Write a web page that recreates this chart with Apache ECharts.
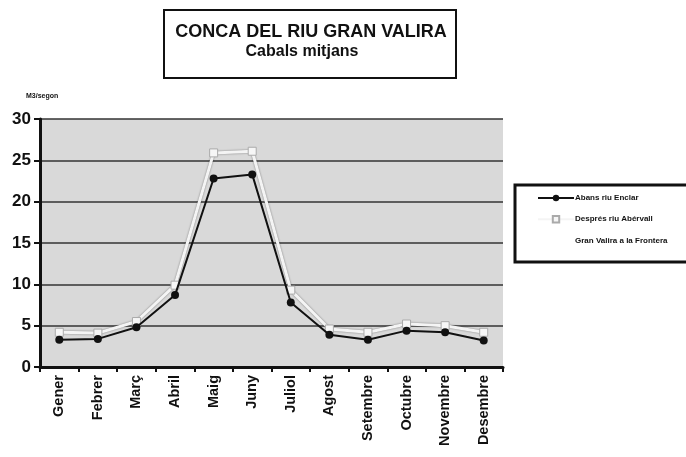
<!DOCTYPE html>
<html>
<head>
<meta charset="utf-8">
<script src="https://cdn.jsdelivr.net/npm/echarts@6/dist/echarts.min.js"></script>
<style>
  html, body { margin: 0; padding: 0; background: #ffffff; }
  #chart { width: 686px; height: 457px; }
</style>
</head>
<body>
<div id="chart"></div>
<script>
// Monthly mean flows, Gran Valira basin (m3/s)
const months = ['Gener', 'Febrer', 'Març', 'Abril', 'Maig', 'Juny', 'Juliol', 'Agost', 'Setembre', 'Octubre', 'Novembre', 'Desembre'];
const abansEnclar = [3.3, 3.4, 4.8, 8.7, 22.8, 23.3, 7.8, 3.9, 3.3, 4.4, 4.2, 3.2];
const despresValira = [4.2, 4.1, 5.5, 9.9, 25.9, 26.1, 9.3, 4.6, 4.2, 5.2, 5.0, 4.2];
const frontera = [null, null, null, null, null, null, null, null, null, null, null, null];
const seriesNames = ['Abans riu Enclar', 'Després riu Abérvall', 'Gran Valira a la Frontera'];
const yTicks = { min: 0, max: 30, interval: 5 };

const chart = echarts.init(document.getElementById('chart'));
const font = 'Liberation Sans, Arial, sans-serif';

chart.setOption({
  backgroundColor: '#ffffff',
  animation: false,
  grid: { left: 40, right: 183, top: 119, bottom: 90, show: true, backgroundColor: '#d9d9d9', borderWidth: 0 },
  graphic: [
    { type: 'rect', shape: { x: 164, y: 10, width: 292, height: 68 },
      style: { fill: '#ffffff', stroke: '#111', lineWidth: 2 } },
    { type: 'text', style: { text: 'CONCA DEL RIU GRAN VALIRA', x: 311, y: 32, textAlign: 'center', textVerticalAlign: 'middle', fill: '#111', font: 'bold 18px ' + font } },
    { type: 'text', style: { text: 'Cabals mitjans', x: 302, y: 52, textAlign: 'center', textVerticalAlign: 'middle', fill: '#111', font: 'bold 16px ' + font } },
    { type: 'text', style: { text: 'M3/segon', x: 26, y: 93, fill: '#111', font: 'bold 7px ' + font } },
    { type: 'rect', shape: { x: 515, y: 185, width: 175, height: 77 },
      style: { fill: '#ffffff', stroke: '#111', lineWidth: 3 } }
  ],
  legend: {
    orient: 'vertical',
    left: 532, top: 189,
    itemGap: 13, itemWidth: 36, itemHeight: 8,
    textStyle: { fontFamily: font, fontSize: 8, fontWeight: 'bold', color: '#111', padding: [0, 0, 0, -4] },
    data: [
      { name: seriesNames[0] },
      { name: seriesNames[1] },
      { name: seriesNames[2], icon: 'rect', itemStyle: { opacity: 0 }, lineStyle: { opacity: 0 } }
    ]
  },
  xAxis: {
    type: 'category',
    data: months,
    boundaryGap: true,
    axisLine: { lineStyle: { color: '#111', width: 3 } },
    axisTick: { show: true, length: 5, lineStyle: { color: '#111', width: 2 } },
    axisLabel: { rotate: 90, margin: 8, fontFamily: font, fontSize: 14.5, fontWeight: 'bold', color: '#111' },
    splitLine: { show: false }
  },
  yAxis: {
    type: 'value',
    min: yTicks.min, max: yTicks.max, interval: yTicks.interval,
    axisLine: { show: true, lineStyle: { color: '#111', width: 3 } },
    axisTick: { show: true, length: 6, lineStyle: { color: '#111', width: 2 } },
    axisLabel: { margin: 9, fontFamily: font, fontSize: 17, fontWeight: 'bold', color: '#111' },
    splitLine: { lineStyle: { color: '#333', width: 1.5 } }
  },
  series: [
    {
      name: seriesNames[1], type: 'line', data: despresValira, z: 2,
      symbol: 'rect', symbolSize: 8,
      itemStyle: { color: '#f6f6f6', borderColor: '#aaa', borderWidth: 1 },
      lineStyle: { color: '#f4f4f4', width: 3, shadowColor: 'rgba(0,0,0,0.45)', shadowBlur: 2 }
    },
    {
      name: seriesNames[0], type: 'line', data: abansEnclar, z: 3,
      symbol: 'circle', symbolSize: 8,
      itemStyle: { color: '#111' },
      lineStyle: { color: '#111', width: 2 }
    },
    {
      name: seriesNames[2], type: 'line', data: frontera, symbol: 'none',
      itemStyle: { color: 'rgba(0,0,0,0)' }, lineStyle: { opacity: 0 }
    }
  ]
});
</script>
</body>
</html>
